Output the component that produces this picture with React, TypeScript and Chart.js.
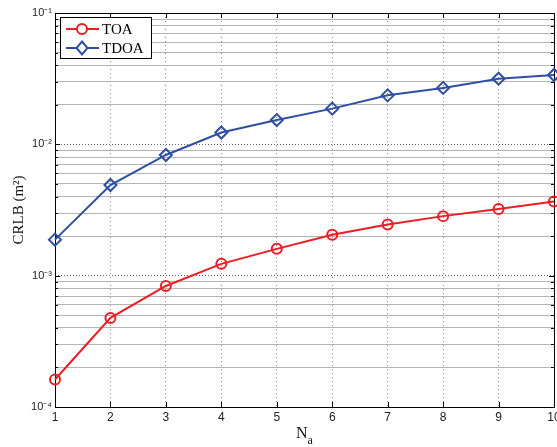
import React, { useEffect, useRef } from "react";
import { Chart, registerables } from "chart.js";
Chart.register(...registerables);

const naValues = [1, 2, 3, 4, 5, 6, 7, 8, 9, 10];
const toaCrlb = [1.62e-4, 4.77e-4, 8.35e-4, 1.23e-3, 1.6e-3, 2.05e-3, 2.45e-3, 2.84e-3, 3.22e-3, 3.67e-3];
const tdoaCrlb = [1.88e-3, 4.9e-3, 8.3e-3, 1.23e-2, 1.53e-2, 1.87e-2, 2.36e-2, 2.69e-2, 3.16e-2, 3.37e-2];
const yDecades = [1e-4, 1e-3, 1e-2, 1e-1];
const yDecadeLabels = ["10⁻⁴", "10⁻³", "10⁻²", "10⁻¹"];
const seriesNames = ["TOA", "TDOA"];
const seriesColors = ["#ee1c25", "#2e4fa3"];
const seriesMarkers = ["circle", "rectRot"];
const xTitleMain = "N";
const xTitleSub = "a";

const isDecade = (v: number) => Math.abs(Math.log10(v) - Math.round(Math.log10(v))) < 1e-6;

const framePlugin = {
  id: "frame",
  beforeDatasetsDraw(chart: any) {
    const { ctx } = chart;
    const { left, right, top, bottom } = chart.chartArea;
    ctx.save();
    ctx.strokeStyle = "#000";
    ctx.lineWidth = 1;
    ctx.beginPath();
    const xs = chart.scales.x;
    naValues.forEach((v) => {
      const px = Math.round(xs.getPixelForValue(v)) + 0.5;
      ctx.moveTo(px, bottom);
      ctx.lineTo(px, bottom - 5);
      ctx.moveTo(px, top);
      ctx.lineTo(px, top + 5);
    });
    const ys = chart.scales.y;
    ys.ticks.forEach((t: any) => {
      const py = Math.round(ys.getPixelForValue(t.value)) + 0.5;
      const len = isDecade(t.value) ? 5 : 3;
      ctx.moveTo(left, py);
      ctx.lineTo(left + len, py);
      ctx.moveTo(right, py);
      ctx.lineTo(right - len, py);
    });
    ctx.stroke();
    ctx.strokeRect(Math.round(left) + 0.5, Math.round(top) + 0.5, Math.round(right - left), Math.round(bottom - top));
    const cx = (left + right) / 2;
    ctx.fillStyle = "#111";
    ctx.textBaseline = "alphabetic";
    ctx.font = '16px "Liberation Serif"';
    const wN = ctx.measureText(xTitleMain).width;
    ctx.font = '12px "Liberation Serif"';
    const wA = ctx.measureText(xTitleSub).width;
    const x0 = cx - (wN + wA) / 2;
    ctx.font = '16px "Liberation Serif"';
    ctx.textAlign = "left";
    ctx.fillText(xTitleMain, x0, bottom + 31);
    ctx.font = '12px "Liberation Serif"';
    ctx.fillText(xTitleSub, x0 + wN, bottom + 37);
    ctx.restore();
  },
};

const legendPlugin = {
  id: "boxLegend",
  afterDraw(chart: any) {
    const { ctx } = chart;
    const { left, top } = chart.chartArea;
    const bx = Math.round(left) + 5;
    const by = Math.round(top) + 4;
    const bw = 91;
    const bh = 41;
    ctx.save();
    ctx.fillStyle = "#fff";
    ctx.fillRect(bx, by, bw, bh);
    ctx.strokeStyle = "#000";
    ctx.lineWidth = 1;
    ctx.strokeRect(bx + 0.5, by + 0.5, bw, bh);
    chart.data.datasets.forEach((ds: any, i: number) => {
      const y = by + 12 + i * 19;
      ctx.strokeStyle = ds.borderColor;
      ctx.lineWidth = 2;
      ctx.beginPath();
      ctx.moveTo(bx + 6, y);
      ctx.lineTo(bx + 39, y);
      ctx.stroke();
      const cx = bx + 22;
      ctx.beginPath();
      if (ds.pointStyle === "circle") {
        ctx.arc(cx, y, ds.pointRadius, 0, Math.PI * 2);
      } else {
        const r = ds.pointRadius;
        ctx.moveTo(cx, y - r - 0.5);
        ctx.lineTo(cx + r - 0.5, y);
        ctx.lineTo(cx, y + r + 0.5);
        ctx.lineTo(cx - r + 0.5, y);
        ctx.closePath();
      }
      ctx.fillStyle = "#fff";
      ctx.fill();
      ctx.stroke();
      ctx.fillStyle = "#000";
      ctx.font = '15px "Liberation Serif"';
      ctx.textBaseline = "middle";
      ctx.textAlign = "left";
      ctx.fillText(ds.label, bx + 42, y + 1);
    });
    ctx.restore();
  },
};

export default function App() {
  const ref = useRef<HTMLCanvasElement | null>(null);
  useEffect(() => {
    if (!ref.current) return;
    const series = [toaCrlb, tdoaCrlb];
    const chart = new Chart(ref.current, {
      type: "line",
      data: {
        datasets: series.map((vals, i) => ({
          label: seriesNames[i],
          data: naValues.map((x, j) => ({ x, y: vals[j] })),
          borderColor: seriesColors[i],
          backgroundColor: "rgba(0,0,0,0)",
          borderWidth: 2,
          pointStyle: seriesMarkers[i],
          pointRadius: i === 0 ? 5 : 6,
          pointBorderWidth: 2,
          pointBackgroundColor: "rgba(0,0,0,0)",
          pointBorderColor: seriesColors[i],
          tension: 0,
          clip: false as any,
        })),
      },
      options: {
        animation: false,
        responsive: false,
        layout: { autoPadding: false, padding: { top: 13, right: 3, left: 0, bottom: 0 } },
        plugins: { legend: { display: false }, tooltip: { enabled: false } },
        scales: {
          x: {
            type: "linear",
            min: 1,
            max: 10,
            afterBuildTicks: (s: any) => {
              s.ticks = naValues.map((v) => ({ value: v }));
            },
            afterFit: (s: any) => {
              s.height = 40;
              s.paddingLeft = 0;
              s.paddingRight = 0;
              s.getPadding = () => ({ left: 0, right: 0, top: 0, bottom: 0 });
            },
            ticks: {
              color: "#222",
              font: { family: "Liberation Sans", size: 12 },
              padding: 3,
              autoSkip: false,
              maxRotation: 0,
            },
            grid: { color: "#8a8a8a", drawTicks: false, lineWidth: 1 },
            border: { display: false, dash: [1, 3] },
            title: { display: false },
          },
          y: {
            type: "logarithmic",
            min: 1e-4,
            max: 1e-1,
            afterBuildTicks: (s: any) => {
              const t: any[] = [];
              for (let e = -4; e <= -2; e++) {
                for (let m = 1; m <= 9; m++) t.push({ value: m * Math.pow(10, e) });
              }
              t.push({ value: 1e-1 });
              s.ticks = t;
            },
            afterFit: (s: any) => {
              s.width = 55;
              s.paddingTop = 0;
              s.paddingBottom = 0;
              s.getPadding = () => ({ left: 0, right: 0, top: 0, bottom: 0 });
            },
            ticks: {
              color: "#222",
              font: { family: "Liberation Sans", size: 11 },
              padding: 3,
              autoSkip: false,
              callback: (v: any) => {
                const idx = yDecades.findIndex((d) => Math.abs(Math.log10(d) - Math.log10(Number(v))) < 1e-6);
                return idx >= 0 ? yDecadeLabels[idx] : "";
              },
            },
            grid: {
              color: (c: any) => (c.tick && isDecade(c.tick.value) ? "#666" : "#b4b4b4"),
              drawTicks: false,
              lineWidth: 1,
            },
            border: {
              display: false,
              dash: (c: any) => (c.tick && isDecade(c.tick.value) ? [1, 2] : []),
            } as any,
            title: {
              display: true,
              text: "CRLB (m²)",
              color: "#111",
              font: { family: "Liberation Serif", size: 15 },
              padding: { top: 10, bottom: 0 },
            },
          },
        },
      },
      plugins: [framePlugin, legendPlugin],
    } as any);
    return () => chart.destroy();
  }, []);
  return (
    <div style={{ position: "absolute", left: 0, top: 0, width: 557, height: 447, background: "#fff" }}>
      <canvas ref={ref} width={557} height={447} style={{ display: "block" }} />
    </div>
  );
}
